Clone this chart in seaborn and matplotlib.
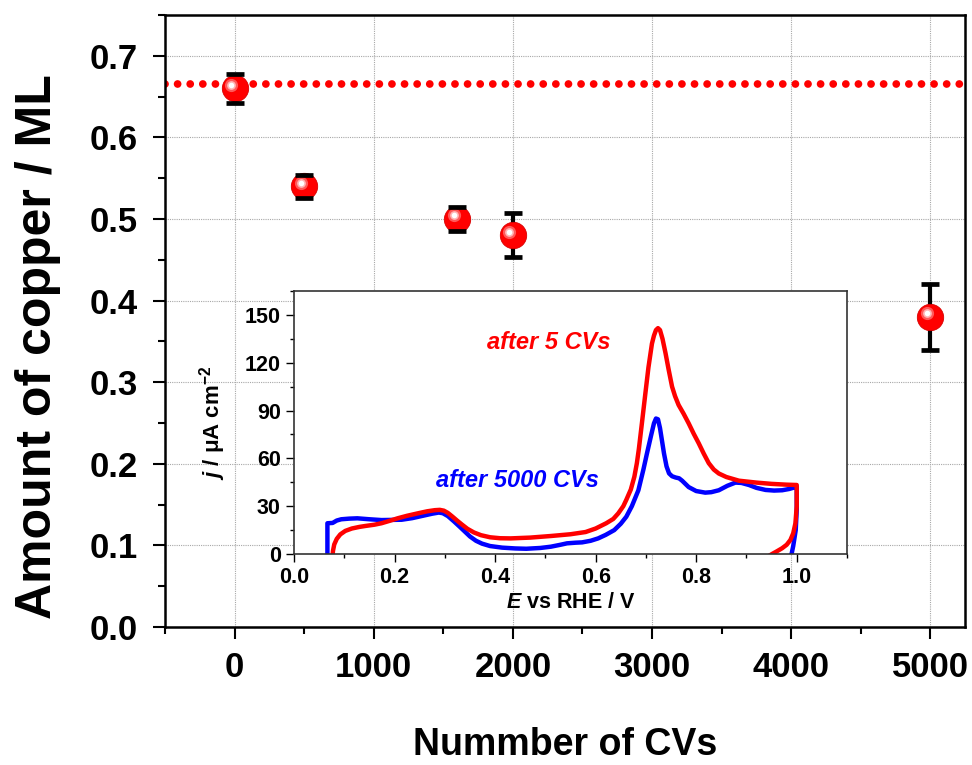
import numpy as np
import pandas as pd
import seaborn as sns
import matplotlib
matplotlib.use("Agg")
import matplotlib.pyplot as plt
from matplotlib.ticker import MultipleLocator
from matplotlib.transforms import ScaledTranslation

# ---- main data: copper coverage vs number of cycles ----
n_cycles = [0, 500, 1600, 2000, 5000]
copper_ml = [0.66, 0.54, 0.50, 0.48, 0.38]
copper_err = [0.018, 0.014, 0.015, 0.027, 0.040]
initial_level = 0.665

# ---- inset data: CV curves (E vs RHE / V, j / uA cm-2) ----
red_E = [0.0763, 0.0775, 0.080, 0.085, 0.092, 0.102, 0.115, 0.130, 0.142, 0.160,
         0.174, 0.190, 0.206, 0.225, 0.246, 0.265, 0.280, 0.290, 0.298, 0.306,
         0.315, 0.325, 0.334, 0.345, 0.358, 0.372, 0.390, 0.410, 0.431, 0.470,
         0.511, 0.550, 0.580, 0.600, 0.621, 0.635, 0.645, 0.655, 0.661, 0.670,
         0.677, 0.682, 0.686, 0.692, 0.699, 0.705, 0.712, 0.716, 0.720, 0.724,
         0.728, 0.733, 0.739, 0.745, 0.752, 0.758, 0.765, 0.775, 0.785, 0.795,
         0.805, 0.815, 0.825, 0.835, 0.845, 0.860, 0.885, 0.920, 0.950, 0.980,
         1.000, 1.000, 0.9994, 0.9974, 0.993, 0.9874, 0.980, 0.9708, 0.960, 0.9509,
         0.930]
red_j = [-2, 2, 6, 9.5, 12.3, 14.5, 16.0, 17.0, 17.6, 18.4,
         19.3, 20.8, 22.4, 24.0, 25.5, 26.8, 27.5, 27.7, 27.2, 25.8,
         23.5, 20.8, 18.5, 15.8, 13.5, 11.8, 10.5, 9.9, 9.8, 10.3,
         11.3, 12.4, 13.8, 16.0, 19.3, 22.0, 25.5, 30.0, 34.0, 40.5,
         48.5, 57, 66, 82, 101, 117, 132, 137, 140.5, 141.7,
         140.5, 135, 126, 116, 105, 99, 93.5, 88, 82, 75.5,
         69.5, 63, 57, 53, 50.5, 48.3, 46, 44.8, 44, 43.5,
         43.3, 30, 27.6, 19.3, 13, 8.8, 5.8, 3.6, 1.6, 0,
         -4]

blue_E = [0.0664, 0.0664, 0.0768, 0.085, 0.094, 0.110, 0.126, 0.150, 0.174, 0.214,
          0.235, 0.255, 0.275, 0.288, 0.296, 0.306, 0.318, 0.330, 0.340, 0.350,
          0.362, 0.374, 0.390, 0.414, 0.440, 0.462, 0.490, 0.511, 0.530, 0.543,
          0.560, 0.573, 0.590, 0.605, 0.620, 0.637, 0.650, 0.661, 0.672, 0.685,
          0.695, 0.702, 0.710, 0.716, 0.720, 0.724, 0.728, 0.732, 0.736, 0.741,
          0.746, 0.752, 0.759, 0.766, 0.772, 0.785, 0.800, 0.818, 0.830, 0.845,
          0.862, 0.878, 0.890, 0.905, 0.920, 0.938, 0.955, 0.971, 0.985, 0.997,
          1.000, 1.000, 0.998, 0.993, 0.990, 0.985]
blue_j = [-2, 19.3, 19.5, 21.0, 21.8, 22.2, 22.4, 21.8, 21.3, 21.5,
          22.5, 23.9, 25.3, 26.0, 25.6, 23.8, 20.5, 17.0, 14.0, 11.0,
          8.3, 6.5, 5.0, 4.0, 3.5, 3.3, 3.8, 4.6, 5.8, 6.7,
          7.1, 7.3, 8.3, 9.8, 12.0, 15.0, 19.0, 23.4, 30.0, 40.0,
          53, 63, 74, 82, 85, 84.5, 79, 71, 63, 55,
          50.6, 48.8, 48.0, 47.5, 46.0, 42.0, 39.5, 38.5, 38.8, 40.0,
          42.8, 44.8, 44.6, 43.3, 41.5, 40.2, 39.8, 40.0, 40.8, 41.9,
          42.0, 27.6, 15, 5, 0.4, -4]

main_xticks = [0, 1000, 2000, 3000, 4000, 5000]
main_yticks = [0.0, 0.1, 0.2, 0.3, 0.4, 0.5, 0.6, 0.7]
inset_xticks = [0.0, 0.2, 0.4, 0.6, 0.8, 1.0]
inset_yticks = [0, 30, 60, 90, 120, 150]

sns.set_theme(style="ticks")
plt.rcParams["font.family"] = ["Liberation Sans", "DejaVu Sans"]
plt.rcParams["font.weight"] = "bold"
plt.rcParams["text.color"] = "black"
plt.rcParams["axes.labelcolor"] = "black"
plt.rcParams["mathtext.fontset"] = "custom"
plt.rcParams["mathtext.it"] = "Liberation Sans:bold:italic"
plt.rcParams["mathtext.rm"] = "Liberation Sans:bold"
plt.rcParams["mathtext.bf"] = "Liberation Sans:bold"

fig = plt.figure(figsize=(9.72, 7.65), dpi=100)
ax = fig.add_axes([0.1698, 0.1804, 0.823, 0.800])

# grid behind everything
ax.set_axisbelow(True)
ax.grid(True, which="major", color="#a8a8a8", linestyle=(0, (1, 1)), linewidth=0.8)

# dotted reference level
ax.axhline(initial_level, color="#ff0000", linewidth=5.6,
           linestyle=(0, (0.001, 1.62)), dash_capstyle="round", zorder=2)

# error bars: lines below the markers, caps on top
eb = ax.errorbar(n_cycles, copper_ml, yerr=copper_err, fmt="none", ecolor="black",
                 elinewidth=3.0, capsize=6.5, capthick=3.4, zorder=3)
for cap in eb[1]:
    cap.set_zorder(6)

df = pd.DataFrame({"cycles": n_cycles, "copper": copper_ml})
sns.scatterplot(data=df, x="cycles", y="copper", ax=ax, s=360, color="#ff0000",
                edgecolor="#d80000", linewidth=0.6, zorder=4, legend=False)
# glossy highlight on the spheres
shift = ax.transData + ScaledTranslation(-3.5 / 100, 3.5 / 100, fig.dpi_scale_trans)
ax.scatter(n_cycles, copper_ml, s=90, color="#ff7070", linewidths=0,
           transform=shift, zorder=5, alpha=0.8)
ax.scatter(n_cycles, copper_ml, s=40, color="#ffc0c0", linewidths=0,
           transform=shift, zorder=5, alpha=0.9)
ax.scatter(n_cycles, copper_ml, s=16, color="white", linewidths=0,
           transform=shift, zorder=5)

ax.set_xlim(-500, 5250)
ax.set_ylim(0, 0.75)
ax.set_xticks(main_xticks)
ax.set_xticklabels([str(v) for v in main_xticks])
ax.set_yticks(main_yticks)
ax.set_yticklabels([f"{v:.1f}" for v in main_yticks])
ax.xaxis.set_minor_locator(MultipleLocator(500))
ax.yaxis.set_minor_locator(MultipleLocator(0.05))
ax.tick_params(which="major", direction="out", length=8.6, width=1.5,
               labelsize=25, colors="black")
ax.tick_params(axis="x", which="major", pad=9)
ax.tick_params(axis="y", which="major", pad=11)
ax.tick_params(which="minor", direction="out", length=5, width=1.5, colors="black")
for lab in ax.get_xticklabels() + ax.get_yticklabels():
    lab.set_fontweight("bold")
for sp in ax.spines.values():
    sp.set_visible(True)
    sp.set_linewidth(1.8)
    sp.set_color("black")

ax.set_xlabel("Nummber of CVs", fontsize=27, fontweight="bold", color="black")
ax.set_ylabel("Amount of copper / ML", fontsize=36, fontweight="bold", color="black")
ax.xaxis.set_label_coords(0.5, -0.163)
ax.yaxis.set_label_coords(-0.13, 0.4575)

# ---- inset with the CV curves ----
ins = fig.add_axes([0.3025, 0.2758, 0.5689, 0.3438])
ins.set_facecolor("white")
sns.lineplot(x=blue_E, y=blue_j, ax=ins, sort=False, estimator=None,
             color="#0000ff", linewidth=3.2, solid_joinstyle="round")
sns.lineplot(x=red_E, y=red_j, ax=ins, sort=False, estimator=None,
             color="#ff0000", linewidth=3.2, solid_joinstyle="round")
ins.set_xlim(0, 1.1)
ins.set_ylim(0, 165)
ins.set_xticks(inset_xticks)
ins.set_xticklabels([f"{v:.1f}" for v in inset_xticks])
ins.set_yticks(inset_yticks)
ins.set_yticklabels([str(v) for v in inset_yticks])
ins.xaxis.set_minor_locator(MultipleLocator(0.1))
ins.yaxis.set_minor_locator(MultipleLocator(15))
ins.tick_params(which="major", direction="out", length=5.5, width=1.0,
                labelsize=15.5, colors="black", pad=4)
ins.tick_params(which="minor", direction="out", length=3, width=1.0, colors="black")
for lab in ins.get_xticklabels() + ins.get_yticklabels():
    lab.set_fontweight("bold")
for sp in ins.spines.values():
    sp.set_visible(True)
    sp.set_linewidth(1.2)
    sp.set_color("#333333")
ins.grid(False)
ins.set_xlabel("$E$ vs RHE / V", fontsize=15.5, fontweight="bold", labelpad=3,
               color="black")
ins.set_ylabel("$j$ / μA cm$^{-2}$", fontsize=16, fontweight="bold", labelpad=12,
               color="black")

ins.text(0.507, 133, "after 5 CVs", color="#ff0000", fontsize=17,
         fontweight="bold", fontstyle="italic", ha="center", va="center")
ins.text(0.445, 46, "after 5000 CVs", color="#0000ff", fontsize=17,
         fontweight="bold", fontstyle="italic", ha="center", va="center")

fig.savefig("out.png", dpi=100)
